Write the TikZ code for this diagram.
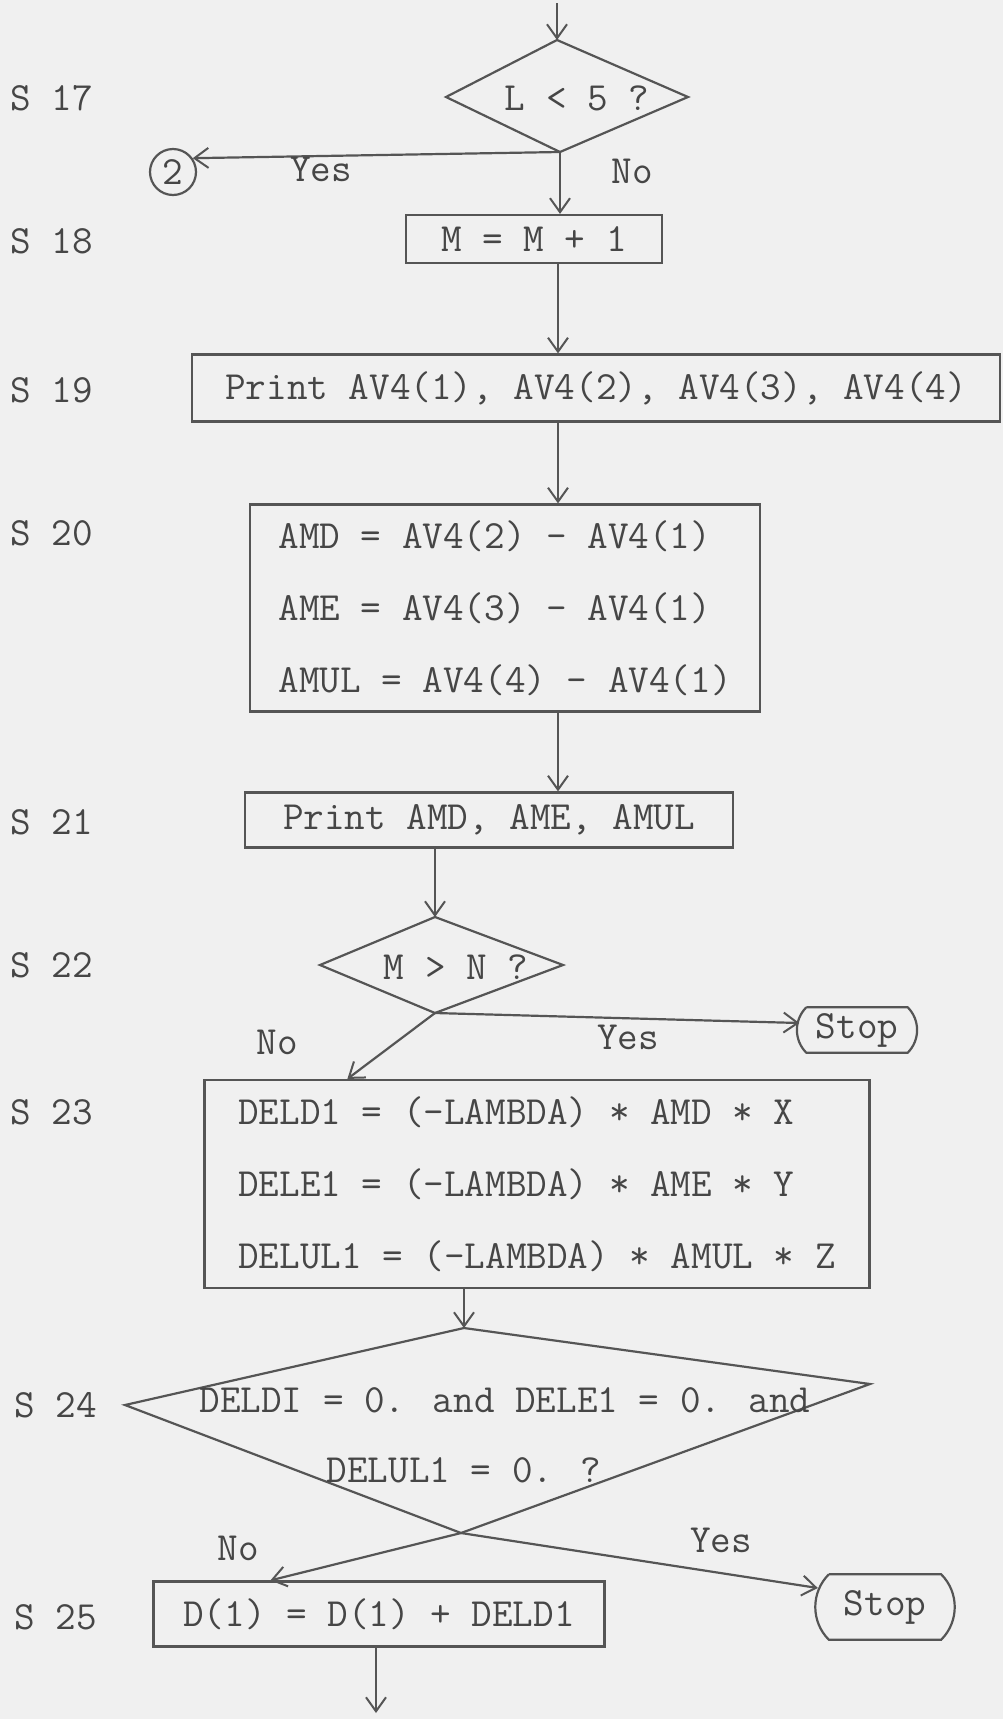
\documentclass[tikz,border=0pt]{standalone}
\usepackage{fontspec}
\usetikzlibrary{arrows.meta,calc}
\definecolor{bg}{RGB}{240,240,240}
\definecolor{ink}{RGB}{85,85,85}
\definecolor{txt}{RGB}{70,70,70}
\begin{document}
\begin{tikzpicture}[x=1pt,y=-1pt,
  every node/.style={font=\ttfamily\fontsize{40}{48}\selectfont, text=txt, inner sep=0pt},
  line/.style={draw=ink, line width=2.2pt},
  arr/.style={line, -{Straight Barb[length=14pt,width=20pt,line width=2pt]}},
  box/.style={draw=ink, line width=2.2pt, rectangle, inner sep=0pt},
  multi/.style={align=left, font=\ttfamily\fontsize{40}{72}\selectfont},
  lbl/.style={anchor=west},
]
\fill[bg] (0,0) rectangle (1003,1719);
\useasboundingbox (0,0) rectangle (1003,1719);

% S17
\coordinate (top) at (557,3);
\coordinate (d1t) at (557,40);
\coordinate (d1r) at (688,97);
\coordinate (d1b) at (560,152);
\coordinate (d1l) at (446,97);
\draw[line, line join=miter] (d1t) -- (d1r) -- (d1b) -- (d1l) -- cycle;
\node (d1txt) at (577,98) {L < 5 ?};
\node[lbl] (s17) at (10,98) {S 17};
\draw[arr] (top) -- (d1t);
\node[circle, draw=ink, line width=2.2pt, minimum size=46pt] (c2) at (173,172) {2};
\draw[arr] (d1b) -- (c2.35);
\node (yes1) at (321,169) {Yes};
\node (no1) at (632,171) {No};

% S18
\node[box, minimum width=256pt, minimum height=48pt] (m) at (534,239) {M = M + 1};
\node[lbl] (s18) at (10,241) {S 18};
\draw[arr] (d1b) -- (d1b |- m.north);

% S19
\coordinate (x1) at (558,0);
\node[box, minimum width=808pt, minimum height=67pt] (p1) at (596,388) {Print AV4(1), AV4(2), AV4(3), AV4(4)};
\node[lbl] (s19) at (10,390) {S 19};
\draw[arr] (x1 |- m.south) -- (x1 |- p1.north);

% S20
\node[box, multi, minimum width=510pt, minimum height=207pt] (a1) at (505,608) {AMD = AV4(2) - AV4(1)\\AME = AV4(3) - AV4(1)\\AMUL = AV4(4) - AV4(1)};
\node[lbl] (s20) at (10,533) {S 20};
\draw[arr] (x1 |- p1.south) -- (x1 |- a1.north);

% S21
\node[box, minimum width=488pt, minimum height=55pt] (p2) at (489,820) {Print AMD, AME, AMUL};
\node[lbl] (s21) at (10,822) {S 21};
\draw[arr] (x1 |- a1.south) -- (x1 |- p2.north);

% S22
\coordinate (d2t) at (435,917);
\coordinate (d2r) at (563,965);
\coordinate (d2b) at (435,1013);
\coordinate (d2l) at (320,965);
\draw[line, line join=miter] (d2t) -- (d2r) -- (d2b) -- (d2l) -- cycle;
\draw[arr] (d2t |- p2.south) -- (d2t);
\node (d2txt) at (456,967) {M > N ?};
\node[lbl] (s22) at (10,965) {S 22};

\node[minimum width=115pt, minimum height=45pt] (st1) at (857,1030) {Stop};
\draw[line] ([xshift=7pt]st1.north west) -- ([xshift=-7pt]st1.north east) to[bend left=45] ([xshift=-7pt]st1.south east) -- ([xshift=7pt]st1.south west) to[bend left=45] ([xshift=7pt]st1.north west);
\draw[arr] (d2b) -- ([yshift=7pt]st1.west);
\node (yes2) at (628,1037) {Yes};
\node (no2) at (277,1042) {No};

% S23
\node[box, multi, minimum width=665pt, minimum height=208pt] (b23) at (537,1184) {DELD1 = (-LAMBDA) * AMD * X\\DELE1 = (-LAMBDA) * AME * Y\\DELUL1 = (-LAMBDA) * AMUL * Z};
\node[lbl] (s23) at (10,1112) {S 23};
\draw[arr] (d2b) -- ([xshift=144pt]b23.north west);

% S24
\coordinate (d3t) at (464,1328);
\coordinate (d3r) at (870,1384);
\coordinate (d3b) at (461,1533);
\coordinate (d3l) at (125,1405);
\draw[line, line join=miter] (d3t) -- (d3r) -- (d3b) -- (d3l) -- cycle;
\draw[arr] (d3t |- b23.south) -- (d3t);
\node (d3a) at (505,1400) {DELDI = 0. and DELE1 = 0. and};
\node (d3c) at (464,1470) {DELUL1 = 0. ?};
\node[lbl] (s24) at (14,1405) {S 24};

\node[minimum width=134pt, minimum height=65pt] (st2) at (885,1607) {Stop};
\draw[line] ([xshift=11pt]st2.north west) -- ([xshift=-11pt]st2.north east) to[bend left=45] ([xshift=-11pt]st2.south east) -- ([xshift=11pt]st2.south west) to[bend left=45] ([xshift=11pt]st2.north west);
\draw[arr] (d3b) -- ([yshift=19pt]st2.west);
\node (no3) at (238,1548) {No};
\node (yes3) at (721,1540) {Yes};

% S25
\node[box, minimum width=451pt, minimum height=65pt] (b25) at (379,1614) {D(1) = D(1) + DELD1};
\node[lbl] (s25) at (14,1617) {S 25};
\draw[arr] (d3b) -- ([xshift=118pt]b25.north west);
\coordinate (end) at (376,1713);
\draw[arr] (end |- b25.south) -- (end);
\end{tikzpicture}
\end{document}
